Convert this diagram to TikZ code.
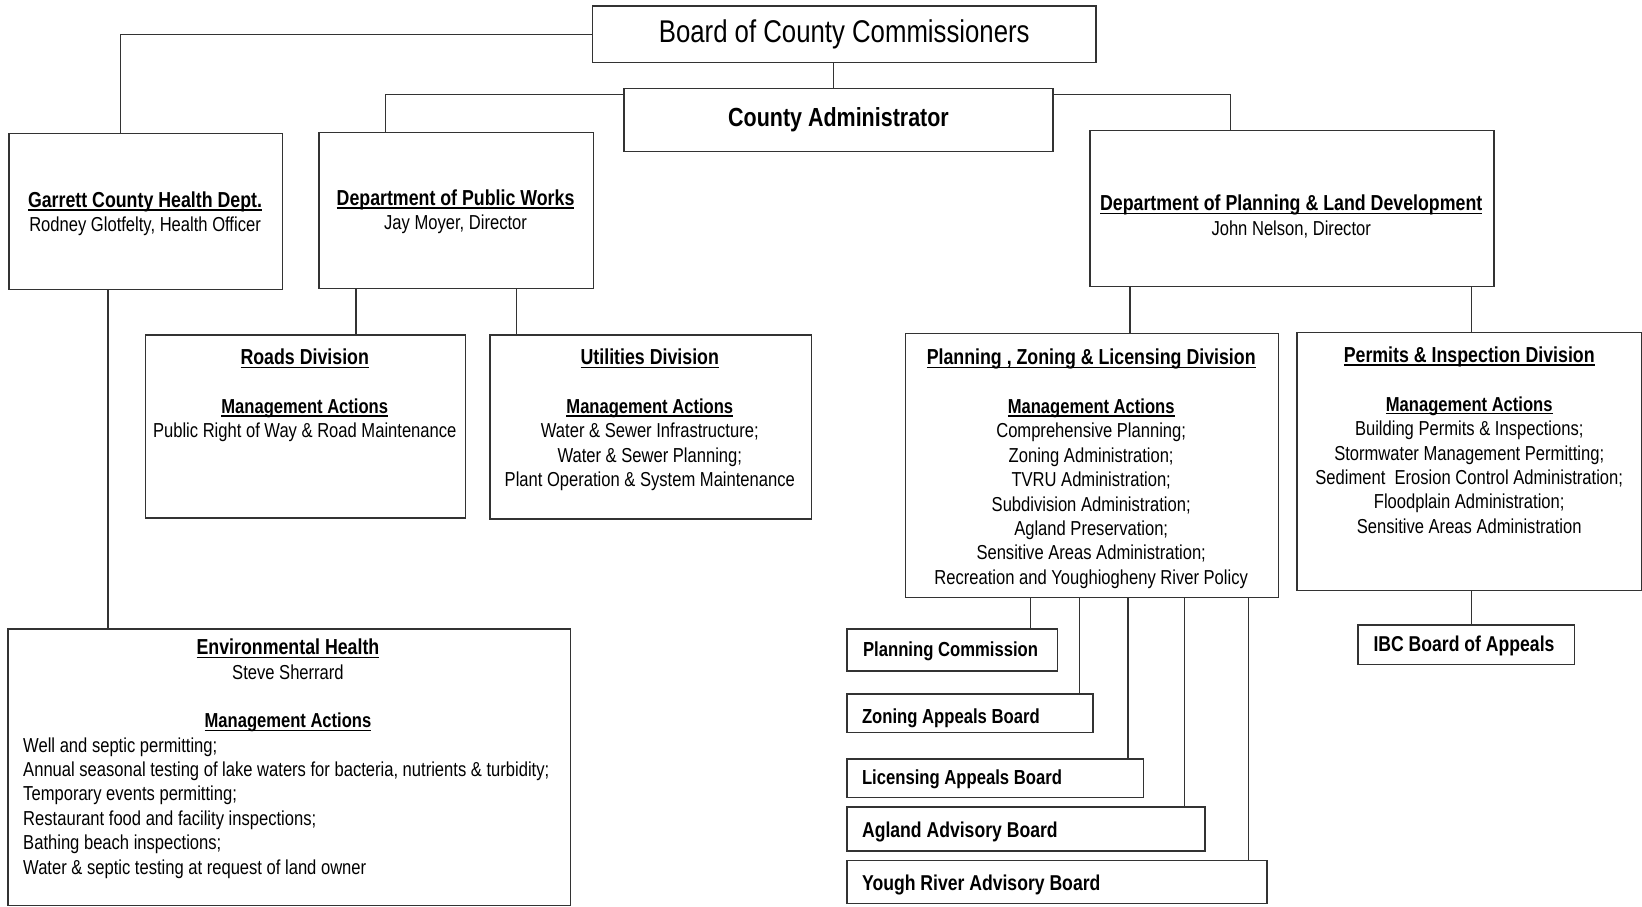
\documentclass[tikz,border=0pt]{standalone}
\usepackage{fontspec}
\setmainfont[FakeStretch=0.82]{Liberation Sans}
\usetikzlibrary{calc}
\newsavebox\ulbox
\newcommand\ulx[1]{\sbox\ulbox{#1}\rlap{\rule[-3pt]{\wd\ulbox}{1.2pt}}\usebox\ulbox}
\newcommand\ttl[1]{\ulx{\fontsize{20.7}{23.3}\selectfont\bfseries #1}}
\newcommand\mact{\ulx{\bfseries Management Actions}}
\newcommand\bxnode[5]{\node[box, anchor=north west, minimum width=#4-#2, minimum height=#5-#3] (#1) at (#2,#3) {};}
\begin{document}
\begin{tikzpicture}[x=1pt, y=-1pt,
  box/.style={draw=black!80, line width=1.4pt, inner sep=0pt, fill=white},
  conn/.style={draw=black!80, line width=1.4pt},
  txt/.style={inner sep=0pt, align=center, font=\fontsize{19.3}{23.3}\selectfont},
  ltxt/.style={inner sep=0pt, align=left, font=\fontsize{19.3}{23.3}\selectfont},
  sbtxt/.style={inner sep=0pt, font=\fontsize{19.4}{23.3}\selectfont\bfseries},
  bbtxt/.style={inner sep=0pt, font=\fontsize{20.5}{24}\selectfont\bfseries}]
\fill[white] (0,0) rectangle (1568,866);
\useasboundingbox (0,0) rectangle (1568,866);

% boxes
\node[box, anchor=north west, minimum width=481, minimum height=54,
      font=\fontsize{30}{34}\selectfont] (board) at (565,5) {Board of County Commissioners};
\node[box, anchor=north west, minimum width=410, minimum height=60,
      font=\fontsize{25}{29}\selectfont\bfseries] (admin) at (595,84) {County Administrator};
\bxnode{health}{8}{127}{269}{276}
\bxnode{pw}{304}{126}{566}{275}
\bxnode{plan}{1040}{124}{1426}{273}
\bxnode{roads}{138}{319}{444}{494}
\bxnode{util}{467}{319}{774}{495}
\bxnode{env}{7}{600}{544}{864}
\bxnode{pzl}{864}{318}{1220}{570}
\bxnode{perm}{1238}{317}{1567}{563}
\bxnode{pc}{808}{600}{1009}{640}
\bxnode{zab}{808}{662}{1043}{699}
\bxnode{lab}{808}{724}{1091}{761}
\bxnode{aab}{808}{770}{1150}{812}
\bxnode{yrab}{808}{821}{1209}{862}
\node[box, anchor=north west, minimum width=207, minimum height=38] (ibc) at (1296,596) {};

% texts
\node[txt, anchor=north] (healthT) at (138.5,183) {\ttl{Garrett County Health Dept.}\\ Rodney Glotfelty, Health Officer};
\node[txt, anchor=north] (pwT) at (435,181) {\ttl{Department of Public Works}\\ Jay Moyer, Director};
\node[txt, anchor=north] (planT) at (1233,186) {\ttl{Department of Planning \& Land Development}\\ John Nelson, Director};
\node[txt, anchor=north] (roadsT) at (291,333) {\ttl{Roads Division}\\[23.3pt] \mact\\ Public Right of Way \& Road Maintenance};
\node[txt, anchor=north] (utilT) at (620.5,333) {\ttl{Utilities Division}\\[23.3pt] \mact\\ Water \& Sewer Infrastructure;\\ Water \& Sewer Planning;\\ Plant Operation \& System Maintenance};
\node[txt, anchor=north] (pzlT) at (1042,333) {\ttl{Planning , Zoning \& Licensing Division}\\[23.3pt] \mact\\ Comprehensive Planning;\\ Zoning Administration;\\ TVRU Administration;\\ Subdivision Administration;\\ Agland Preservation;\\ Sensitive Areas Administration;\\ Recreation and Youghiogheny River Policy};
\node[txt, anchor=north] (permT) at (1403,331) {\ttl{Permits \& Inspection Division}\\[23.3pt] \mact\\ Building Permits \& Inspections;\\ Stormwater Management Permitting;\\ Sediment~ Erosion Control Administration;\\ Floodplain Administration;\\ Sensitive Areas Administration};
\node[txt, anchor=north] (envT) at (275,610) {\ttl{Environmental Health}\\ Steve Sherrard\\[23.3pt] \mact};
\node[ltxt, anchor=north west] (envL) at (22,704) {Well and septic permitting;\\ Annual seasonal testing of lake waters for bacteria, nutrients \& turbidity;\\ Temporary events permitting;\\ Restaurant food and facility inspections;\\ Bathing beach inspections;\\ Water \& septic testing at request of land owner};

\node[sbtxt, anchor=base west] (pcT) at (824,627) {Planning Commission};
\node[sbtxt, anchor=base west] (zabT) at (823,691) {Zoning Appeals Board};
\node[sbtxt, anchor=base west] (labT) at (823,749) {Licensing Appeals Board};
\node[bbtxt, anchor=base west] (aabT) at (823,799.5) {Agland Advisory Board};
\node[bbtxt, anchor=base west] (yrabT) at (823,850.5) {Yough River Advisory Board};
\node[bbtxt, anchor=base] (ibcT) at (1398,622.5) {IBC Board of Appeals};

% connectors
\draw[conn] (board.west) -| ($(health.north west)+(107,0)$);
\draw[conn] ($(board.south)+(-10.5,0)$) coordinate (bj) -- (bj |- admin.north);
\draw[conn] ([yshift=-6pt]admin.north west) -| ($(pw.north west)+(64,0)$);
\draw[conn] ([yshift=-6pt]admin.north east) -| ($(plan.north west)+(135,0)$);
\draw[conn] ($(health.south west)+(95,0)$) coordinate (hj) -- (hj |- env.north);
\draw[conn] ($(pw.south west)+(36,0)$) coordinate (rj) -- (rj |- roads.north);
\draw[conn] ($(pw.south west)+(189,0)$) coordinate (uj) -- (uj |- util.north);
\draw[conn] ($(plan.south west)+(39,0)$) coordinate (zj) -- (zj |- pzl.north);
\draw[conn] ($(plan.south west)+(365,0)$) coordinate (pj) -- (pj |- perm.north);
\draw[conn] ($(perm.south west)+(167,0)$) coordinate (ij) -- (ij |- ibc.north);
\draw[conn] ($(pzl.south west)+(120,0)$) coordinate (c1) -- (c1 |- pc.north);
\draw[conn] ($(pzl.south west)+(167,0)$) coordinate (c2) -- (c2 |- zab.north);
\draw[conn] ($(pzl.south west)+(213,0)$) coordinate (c3) -- (c3 |- lab.north);
\draw[conn] ($(pzl.south west)+(267,0)$) coordinate (c4) -- (c4 |- aab.north);
\draw[conn] ($(pzl.south west)+(328,0)$) coordinate (c5) -- (c5 |- yrab.north);
\end{tikzpicture}
\end{document}
